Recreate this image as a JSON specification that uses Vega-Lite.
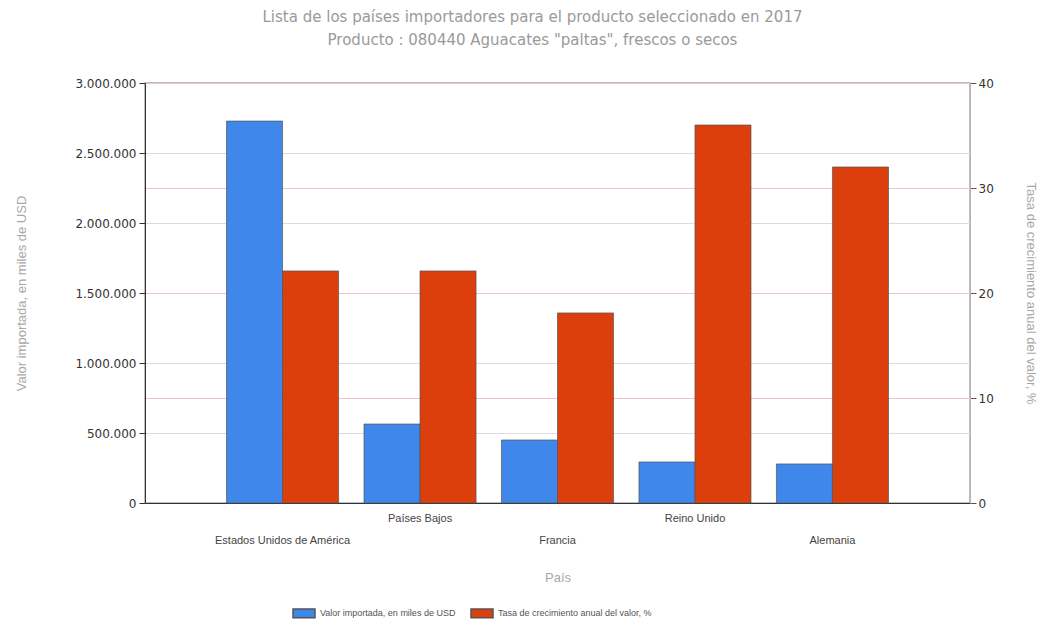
{
  "$schema": "https://vega.github.io/schema/vega-lite/v6.json",
  "width": 825,
  "height": 420,
  "autosize": {"type": "none"},
  "padding": {"left": 145, "top": 83, "right": 70, "bottom": 122},
  "background": "white",
  "title": {
    "text": ["Lista de los países importadores para el producto seleccionado en 2017", "Producto : 080440 Aguacates \"paltas\", frescos o secos"],
    "anchor": "middle",
    "frame": "group",
    "dx": -25,
    "offset": 29,
    "font": "DejaVu Sans",
    "fontSize": 15,
    "fontWeight": "normal",
    "color": "#9a9a9a",
    "lineHeight": 23
  },
  "data": {
    "values": [
      {"pais": "Estados Unidos de América", "serie": "Valor importada, en miles de USD", "valor": 2728000},
      {"pais": "Estados Unidos de América", "serie": "Tasa de crecimiento anual del valor, %", "valor": 22.1},
      {"pais": "Países Bajos", "serie": "Valor importada, en miles de USD", "valor": 564000},
      {"pais": "Países Bajos", "serie": "Tasa de crecimiento anual del valor, %", "valor": 22.1},
      {"pais": "Francia", "serie": "Valor importada, en miles de USD", "valor": 450000},
      {"pais": "Francia", "serie": "Tasa de crecimiento anual del valor, %", "valor": 18.1},
      {"pais": "Reino Unido", "serie": "Valor importada, en miles de USD", "valor": 293000},
      {"pais": "Reino Unido", "serie": "Tasa de crecimiento anual del valor, %", "valor": 36.0},
      {"pais": "Alemania", "serie": "Valor importada, en miles de USD", "valor": 279000},
      {"pais": "Alemania", "serie": "Tasa de crecimiento anual del valor, %", "valor": 32.0}
    ]
  },
  "encoding": {
    "x": {
      "field": "pais",
      "type": "nominal",
      "sort": null,
      "scale": {"paddingInner": 0.185, "paddingOuter": 0.593},
      "axis": {
        "title": "País",
        "titleColor": "#a8a8a8",
        "titleFontSize": 13,
        "titleFontWeight": "normal",
        "titleFont": "Liberation Sans",
        "titlePadding": 26,
        "labelAngle": 0,
        "labelFont": "Liberation Sans",
        "labelFontSize": 11,
        "labelColor": "#444",
        "labelPadding": 9,
        "labelLineHeight": 22,
        "labelExpr": "indexof(['Estados Unidos de América','Francia','Alemania'], datum.value) >= 0 ? ['', datum.value] : datum.value",
        "ticks": false,
        "domainColor": "#333",
        "grid": false
      }
    },
    "xOffset": {
      "field": "serie",
      "type": "nominal",
      "scale": {"domain": ["Valor importada, en miles de USD", "Tasa de crecimiento anual del valor, %"], "paddingInner": 0, "paddingOuter": 0}
    },
    "color": {
      "field": "serie",
      "type": "nominal",
      "scale": {"domain": ["Valor importada, en miles de USD", "Tasa de crecimiento anual del valor, %"], "range": ["#3f87ea", "#dc3f0c"]},
      "legend": {
        "title": null,
        "orient": "none",
        "legendX": 147,
        "legendY": 518,
        "direction": "horizontal",
        "symbolType": "M-1,-0.4H1V0.4H-1Z",
        "symbolSize": 484,
        "labelFont": "Liberation Sans",
        "labelFontSize": 9,
        "labelColor": "#555",
        "columnPadding": 12,
        "symbolOffset": 0
      }
    }
  },
  "layer": [
    {
      "transform": [{"filter": "datum.serie === 'Valor importada, en miles de USD'"}],
      "mark": {"type": "bar", "stroke": "#555", "strokeWidth": 0.7},
      "encoding": {
        "y": {
          "field": "valor",
          "type": "quantitative",
          "scale": {"domain": [0, 3000000], "nice": false},
          "axis": {
            "orient": "left",
            "title": "Valor importada, en miles de USD",
            "titleColor": "#a8a8a8",
            "titleFontSize": 13,
            "titleFontWeight": "normal",
            "titleFont": "Liberation Sans",
            "titlePadding": 46,
            "values": [0, 500000, 1000000, 1500000, 2000000, 2500000, 3000000],
            "labelExpr": "replace(replace(format(datum.value, ','), ',', '.'), ',', '.')",
            "labelFont": "DejaVu Sans",
            "labelFontSize": 12,
            "labelColor": "#333",
            "labelPadding": 3,
            "tickColor": "#333",
            "tickSize": 6,
            "domainColor": "#333",
            "grid": true,
            "gridColor": "#dcdcdc"
          }
        }
      }
    },
    {
      "transform": [{"filter": "datum.serie === 'Tasa de crecimiento anual del valor, %'"}],
      "mark": {"type": "bar", "stroke": "#555", "strokeWidth": 0.7},
      "encoding": {
        "y": {
          "field": "valor",
          "type": "quantitative",
          "scale": {"domain": [0, 40], "nice": false},
          "axis": {
            "orient": "right",
            "title": "Tasa de crecimiento anual del valor, %",
            "titleColor": "#a8a8a8",
            "titleFontSize": 13,
            "titleFontWeight": "normal",
            "titleFont": "Liberation Sans",
            "titlePadding": 30,
            "values": [0, 10, 20, 30, 40],
            "labelFont": "DejaVu Sans",
            "labelFontSize": 12,
            "labelColor": "#333",
            "labelPadding": 2,
            "tickColor": "#555",
            "tickSize": 6,
            "domainColor": "#c9aab2",
            "grid": true,
            "gridColor": "#f3c2c9"
          }
        }
      }
    }
  ],
  "resolve": {"scale": {"y": "independent"}, "axis": {"y": "independent"}},
  "config": {
    "view": {"stroke": "#9ea9bb", "strokeWidth": 1.5}
  }
}
